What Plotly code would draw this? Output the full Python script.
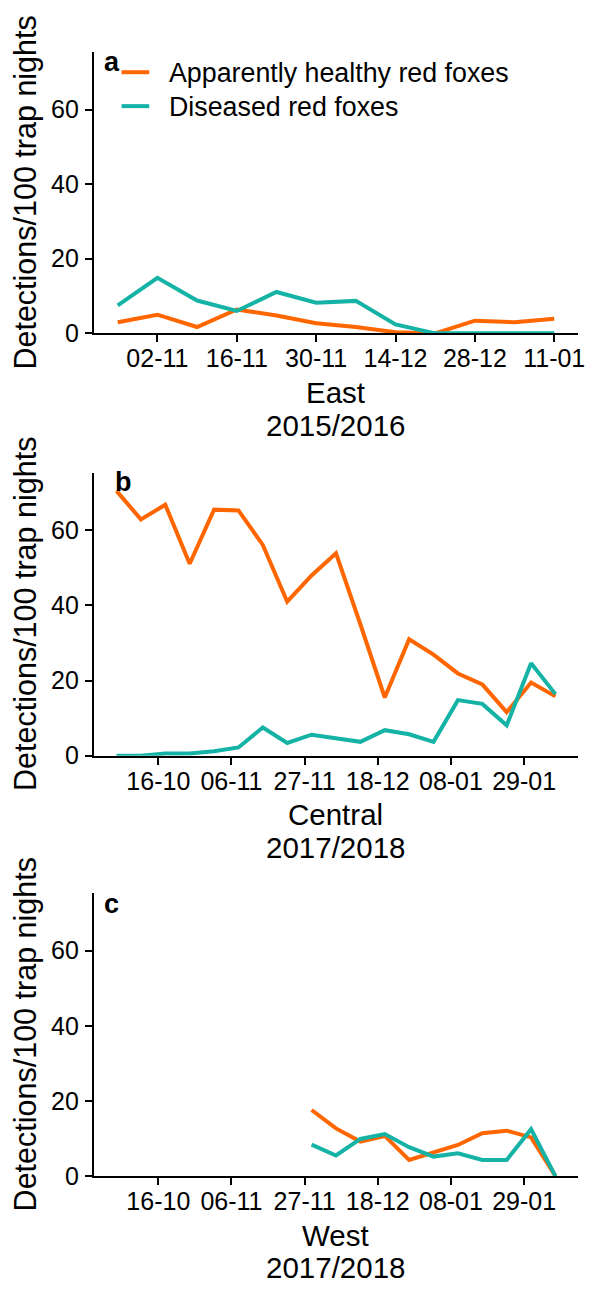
import plotly.graph_objects as go

# ---------------- data ----------------
a_dates = ["2015-10-26", "2015-11-02", "2015-11-09", "2015-11-16", "2015-11-23", "2015-11-30",
           "2015-12-07", "2015-12-14", "2015-12-21", "2015-12-28", "2016-01-04", "2016-01-11"]
a_healthy = [3.0, 5.0, 1.7, 6.4, 4.8, 2.7, 1.7, 0.3, 0.0, 3.4, 3.0, 3.9]
a_diseased = [7.5, 14.9, 8.8, 6.0, 11.1, 8.2, 8.7, 2.4, 0.0, 0.0, 0.0, 0.0]
a_ticks = ["2015-11-02", "2015-11-16", "2015-11-30", "2015-12-14", "2015-12-28", "2016-01-11"]

b_dates = ["2017-10-04", "2017-10-11", "2017-10-18", "2017-10-25", "2017-11-01", "2017-11-08",
           "2017-11-15", "2017-11-22", "2017-11-29", "2017-12-06", "2017-12-13", "2017-12-20",
           "2017-12-27", "2018-01-03", "2018-01-10", "2018-01-17", "2018-01-24", "2018-01-31",
           "2018-02-07"]
b_healthy = [70.5, 62.9, 66.8, 51.1, 65.5, 65.3, 56.1, 41.0, 48.0, 53.9, 35.0, 15.5,
             31.0, 26.9, 21.9, 19.0, 11.6, 19.5, 15.8]
b_diseased = [0.0, 0.0, 0.6, 0.6, 1.2, 2.2, 7.5, 3.4, 5.6, 4.6, 3.7, 6.8,
              5.7, 3.7, 14.8, 13.8, 8.1, 24.6, 16.4]

c_dates = ["2017-11-29", "2017-12-06", "2017-12-13", "2017-12-20", "2017-12-27", "2018-01-03",
           "2018-01-10", "2018-01-17", "2018-01-24", "2018-01-31", "2018-02-07"]
c_healthy = [17.6, 12.7, 9.2, 10.7, 4.3, 6.3, 8.3, 11.4, 12.1, 10.3, 0.0]
c_diseased = [8.4, 5.5, 9.9, 11.2, 7.7, 5.2, 6.1, 4.3, 4.3, 12.5, 0.0]

bc_ticks = ["2017-10-16", "2017-11-06", "2017-11-27", "2017-12-18", "2018-01-08", "2018-01-29"]

series_names = ["Apparently healthy red foxes", "Diseased red foxes"]
panel_letters = ["a", "b", "c"]
regions = ["East", "Central", "West"]
seasons = ["2015/2016", "2017/2018", "2017/2018"]
y_title = "Detections/100 trap nights"
y_ticks = [0, 20, 40, 60]

# ---------------- style ----------------
W, H = 593, 1294
FONT = "Liberation Sans, Arial, sans-serif"
ORANGE = "#FF6600"
TEAL = "#14B3A6"
COLORS = [ORANGE, TEAL]
X0, X1 = 95, 585
panels_px = [(53, 337), (478, 764), (903, 1189)]  # top, bottom in px
x_ranges = [["2015-10-21 19:00", "2016-01-15 05:00"],
            ["2017-09-27 12:00", "2018-02-13 12:00"],
            ["2017-09-27 12:00", "2018-02-13 12:00"]]


def px(p):
    return p / W


def py(p):
    return 1 - p / H


fig = go.Figure()
data = [(a_dates, a_healthy, a_diseased),
        (b_dates, b_healthy, b_diseased),
        (c_dates, c_healthy, c_diseased)]
ticks = [a_ticks, bc_ticks, bc_ticks]

for i, (d, h, s) in enumerate(data):
    xa = "x" if i == 0 else f"x{i+1}"
    ya = "y" if i == 0 else f"y{i+1}"
    fig.add_trace(go.Scatter(x=d, y=h, mode="lines", name=series_names[0],
                             line=dict(color=ORANGE, width=4), xaxis=xa, yaxis=ya,
                             showlegend=False))
    fig.add_trace(go.Scatter(x=d, y=s, mode="lines", name=series_names[1],
                             line=dict(color=TEAL, width=4), xaxis=xa, yaxis=ya,
                             showlegend=False))

layout = dict(
    width=W, height=H,
    margin=dict(l=0, r=0, t=0, b=0),
    paper_bgcolor="white", plot_bgcolor="white",
    font=dict(family=FONT, color="black", size=25),
    showlegend=False,
)

annotations = []
shapes = []
for i in range(3):
    top, bot = panels_px[i]
    sfx = "" if i == 0 else str(i + 1)
    layout["xaxis" + sfx] = dict(
        domain=[px(X0), px(X1)], anchor="y" + sfx, type="date",
        range=x_ranges[i], tickvals=ticks[i], tickformat="%d-%m",
        showgrid=False, zeroline=False, showline=True, linecolor="black", linewidth=2,
        ticks="outside", ticklen=7, tickwidth=2, tickcolor="black", ticklabelstandoff=-5,
        tickfont=dict(family=FONT, size=25, color="black"),
    )
    layout["yaxis" + sfx] = dict(
        domain=[py(bot), py(top)], anchor="x" + sfx,
        range=[0, 75.3], tickvals=y_ticks,
        showgrid=False, zeroline=False, showline=True, linecolor="black", linewidth=2,
        ticks="outside", ticklen=7, tickwidth=2, tickcolor="black", ticklabelstandoff=1,
        tickfont=dict(family=FONT, size=25, color="black"),
    )
    # y title (rotated)
    annotations.append(dict(text=y_title, textangle=-90, xref="paper", yref="paper",
                            x=px(26), y=py((top + bot) / 2), xanchor="center", yanchor="middle",
                            showarrow=False, font=dict(family=FONT, size=30.5, color="black")))
    # x titles (two lines)
    annotations.append(dict(text=regions[i], xref="paper", yref="paper",
                            x=px((X0 + X1) / 2), y=py(bot + 70 - 10.2), xanchor="center", yanchor="middle",
                            showarrow=False, font=dict(family=FONT, size=29.5, color="black")))
    annotations.append(dict(text=seasons[i], xref="paper", yref="paper",
                            x=px((X0 + X1) / 2), y=py(bot + 103 - 10.2), xanchor="center", yanchor="middle",
                            showarrow=False, font=dict(family=FONT, size=29.5, color="black")))

# panel letters
letter_pos = [(103, 62.3), (114, 487.6), (103, 914)]
for i, (lx, ly) in enumerate(letter_pos):
    annotations.append(dict(text="<b>" + panel_letters[i] + "</b>", xref="paper", yref="paper",
                            x=px(lx), y=py(ly), xanchor="left", yanchor="middle",
                            showarrow=False, font=dict(family=FONT, size=27, color="black")))

# legend (panel a): swatch lines + labels
legend_rows = [73.0, 107.3]
for name, color, ly in zip(series_names, COLORS, legend_rows):
    shapes.append(dict(type="line", xref="paper", yref="paper",
                       x0=px(123), x1=px(151), y0=py(ly), y1=py(ly),
                       line=dict(color=color, width=4)))
    annotations.append(dict(text=name, xref="paper", yref="paper",
                            x=px(169), y=py(ly + 0.8), xanchor="left", yanchor="middle",
                            showarrow=False, font=dict(family=FONT, size=26.8, color="black")))

layout["annotations"] = annotations
layout["shapes"] = shapes
fig.update_layout(**layout)
fig.write_html("out.html")
